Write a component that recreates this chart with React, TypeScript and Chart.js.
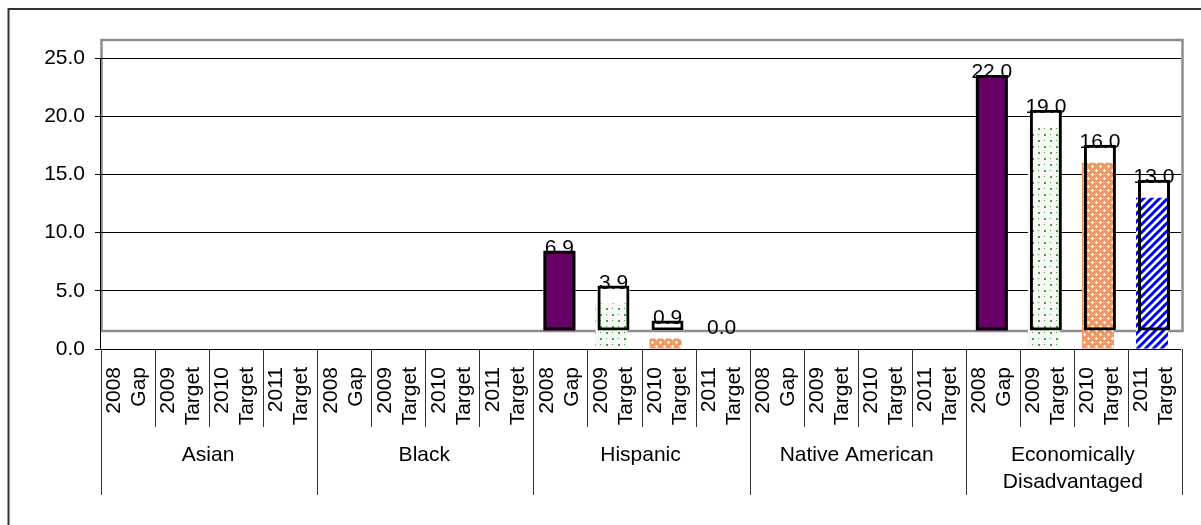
import React, { useEffect, useRef } from "react";
import { Chart, registerables } from "chart.js";
Chart.register(...registerables);

// ---- data ----
const groups: string[][] = [["Asian"], ["Black"], ["Hispanic"], ["Native American"], ["Economically", "Disadvantaged"]];
const periodYears = ["2008", "2009", "2010", "2011"];
const periodKinds = ["Gap", "Target", "Target", "Target"];
const gap2008: (number | null)[] = [null, null, 6.9, null, 22.0];
const target2009: (number | null)[] = [null, null, 3.9, null, 19.0];
const target2010: (number | null)[] = [null, null, 0.9, null, 16.0];
const target2011: (number | null)[] = [null, null, 0.0, null, 13.0];
const yMin = 0;
const yMax = 25;
const yStep = 5;

// ---- style ----
const FONT = '"Liberation Sans", Arial, Helvetica, sans-serif';
const FS = 21;
const DEPTH_Y = 18;
const PURPLE = "#660066";

function makeTile(w: number, h: number, draw: (c: CanvasRenderingContext2D) => void): CanvasPattern | string {
  const cv = document.createElement("canvas");
  cv.width = w;
  cv.height = h;
  const c = cv.getContext("2d")!;
  draw(c);
  const p = c.createPattern(cv, "repeat");
  return p || "#888";
}

export default function App() {
  const ref = useRef<HTMLCanvasElement | null>(null);

  useEffect(() => {
    const canvas = ref.current!;
    const series = [gap2008, target2009, target2010, target2011];
    const labels: string[] = [];
    const values: (number | null)[] = [];
    const pIdx: number[] = [];
    groups.forEach((g, gi) => {
      periodYears.forEach((yr, pi) => {
        labels.push(`${g.join(" ")} ${yr} ${periodKinds[pi]}`);
        values.push(series[pi][gi]);
        pIdx.push(pi);
      });
    });

    const dots = makeTile(12, 12, (c) => {
      c.fillStyle = "#f7f7f7";
      c.fillRect(0, 0, 12, 12);
      c.fillStyle = "#3aa83a";
      c.fillRect(2, 2, 2, 2);
      c.fillRect(8, 8, 2, 2);
      c.fillRect(8, 2, 1, 1);
      c.fillRect(2, 8, 1, 1);
    });
    const orange = makeTile(8, 8, (c) => {
      c.fillStyle = "#f98a4c";
      c.fillRect(0, 0, 8, 8);
      c.fillStyle = "#fba271";
      for (let x = 0; x < 8; x++) for (let y = 0; y < 8; y++) if ((x + y) % 2 === 0) c.fillRect(x, y, 1, 1);
      c.fillStyle = "#ffffff";
      c.fillRect(1, 2, 3, 1);
      c.fillRect(2, 1, 1, 3);
      c.fillRect(5, 6, 3, 1);
      c.fillRect(6, 5, 1, 3);
    });
    const stripes = makeTile(8, 8, (c) => {
      c.fillStyle = "#ffffff";
      c.fillRect(0, 0, 8, 8);
      c.strokeStyle = "#0000ff";
      c.lineWidth = 3;
      c.beginPath();
      c.moveTo(-4, 4); c.lineTo(4, -4);
      c.moveTo(0, 8); c.lineTo(8, 0);
      c.moveTo(4, 12); c.lineTo(12, 4);
      c.stroke();
    });
    const patterns = [null, dots, orange, stripes];

    const barPct = 0.592;

    const depthPlugin = {
      id: "depth",
      beforeDraw(chart: any) {
        const { ctx, chartArea: a } = chart;
        ctx.save();
        ctx.fillStyle = "#ffffff";
        ctx.strokeStyle = "#8c8c8c";
        ctx.lineWidth = 2.5;
        ctx.fillRect(a.left + 1, a.top - DEPTH_Y, a.right - a.left, a.bottom - a.top);
        ctx.strokeRect(a.left + 1.5, a.top - DEPTH_Y, a.right - a.left, a.bottom - a.top);
        ctx.restore();
      },
      beforeDatasetDraw(chart: any, args: any) {
        const ds = chart.data.datasets[args.index];
        chart.ctx.save();
        chart.ctx.translate(ds.shiftX || 0, ds.shiftY || 0);
      },
      afterDatasetDraw(chart: any) {
        chart.ctx.restore();
      },
      afterDatasetsDraw(chart: any) {
        const { ctx, scales } = chart;
        ctx.save();
        ctx.fillStyle = "#000";
        ctx.font = `${FS}px ${FONT}`;
        ctx.textAlign = "center";
        ctx.textBaseline = "alphabetic";
        values.forEach((v, i) => {
          if (v === null) return;
          const x = scales.x.getPixelForValue(i);
          const y = scales.y.getPixelForValue(v) - DEPTH_Y + 3;
          ctx.fillText(v.toFixed(1), x, y);
        });
        ctx.restore();
      },
      afterDraw(chart: any) {
        const { ctx, chartArea: a } = chart;
        const n = labels.length;
        const w = (a.right - a.left) / n;
        const axisY = a.bottom;
        ctx.save();
        // outer chart border
        ctx.strokeStyle = "#333";
        ctx.lineWidth = 2;
        ctx.beginPath();
        ctx.moveTo(8.5, 600);
        ctx.lineTo(8.5, 9);
        ctx.lineTo(1300, 9);
        ctx.stroke();
        // category separators
        ctx.strokeStyle = "#333";
        ctx.lineWidth = 1;
        ctx.beginPath();
        for (let k = 0; k <= n; k++) {
          const x = Math.round(a.left + k * w) + 1.5;
          ctx.moveTo(x, axisY);
          ctx.lineTo(x, k % 4 === 0 ? 495 : 427);
        }
        ctx.stroke();
        // rotated labels
        ctx.fillStyle = "#000";
        ctx.font = `${FS}px ${FONT}`;
        ctx.textAlign = "right";
        ctx.textBaseline = "middle";
        for (let i = 0; i < n; i++) {
          const cx = a.left + (i + 0.5) * w;
          const pi = pIdx[i];
          const lines = [periodYears[pi], periodKinds[pi]];
          lines.forEach((t, li) => {
            ctx.save();
            ctx.translate(cx + (li === 0 ? -12.5 : 12.5), 367);
            ctx.rotate(-Math.PI / 2);
            ctx.fillText(t, 0, 0);
            ctx.restore();
          });
        }
        // group labels
        ctx.textAlign = "center";
        groups.forEach((g, gi) => {
          const cx = a.left + (gi * 4 + 2) * w;
          g.forEach((t, li) => ctx.fillText(t, cx, 455 + li * 27));
        });
        ctx.restore();
      },
    };

    const chart = new Chart(canvas, {
      type: "bar",
      data: {
        labels,
        datasets: [
          {
            label: "box fill",
            data: values,
            backgroundColor: pIdx.map((p) => (p === 0 ? PURPLE : "#ffffff")),
            borderWidth: 0,
            grouped: false,
            order: 3,
            barPercentage: barPct,
            categoryPercentage: 1,
            shiftX: 0,
            shiftY: -DEPTH_Y,
          } as any,
          {
            label: "pattern",
            data: values.map((v, i) => (pIdx[i] === 0 ? null : v)),
            backgroundColor: pIdx.map((p) => (patterns[p] || "rgba(0,0,0,0)") as any),
            borderWidth: 0,
            grouped: false,
            order: 2,
            barPercentage: barPct,
            categoryPercentage: 1,
            shiftX: -2,
            shiftY: 0,
          } as any,
          {
            label: "box border",
            data: values,
            backgroundColor: "rgba(0,0,0,0)",
            borderColor: "#000",
            borderWidth: values.map((v) => (v ? 3 : 0)),
            borderSkipped: false,
            grouped: false,
            order: 1,
            barPercentage: barPct,
            categoryPercentage: 1,
            shiftX: 0,
            shiftY: -DEPTH_Y,
          } as any,
        ],
      },
      options: {
        responsive: false,
        animation: false,
        devicePixelRatio: 1,
        layout: { padding: { left: 0, top: 58, right: 20, bottom: 176 } },
        plugins: {
          legend: { display: false },
          tooltip: { enabled: false },
          title: { display: false },
        },
        scales: {
          x: { display: false },
          y: {
            min: yMin,
            max: yMax,
            afterFit: (s: any) => {
              s.width = 100;
            },
            ticks: {
              stepSize: yStep,
              callback: (v: any) => Number(v).toFixed(1),
              color: "#000",
              font: { family: FONT, size: FS },
              padding: 10,
            },
            grid: { color: "#000", lineWidth: 1, tickLength: 5 },
            border: { color: "#000", width: 1 },
          },
        },
      } as any,
      plugins: [depthPlugin],
    });
    return () => chart.destroy();
  }, []);

  return (
    <div style={{ position: "fixed", left: 0, top: 0, width: 1201, height: 525, background: "#fff" }}>
      <canvas ref={ref} width={1201} height={525} style={{ display: "block" }} />
    </div>
  );
}
